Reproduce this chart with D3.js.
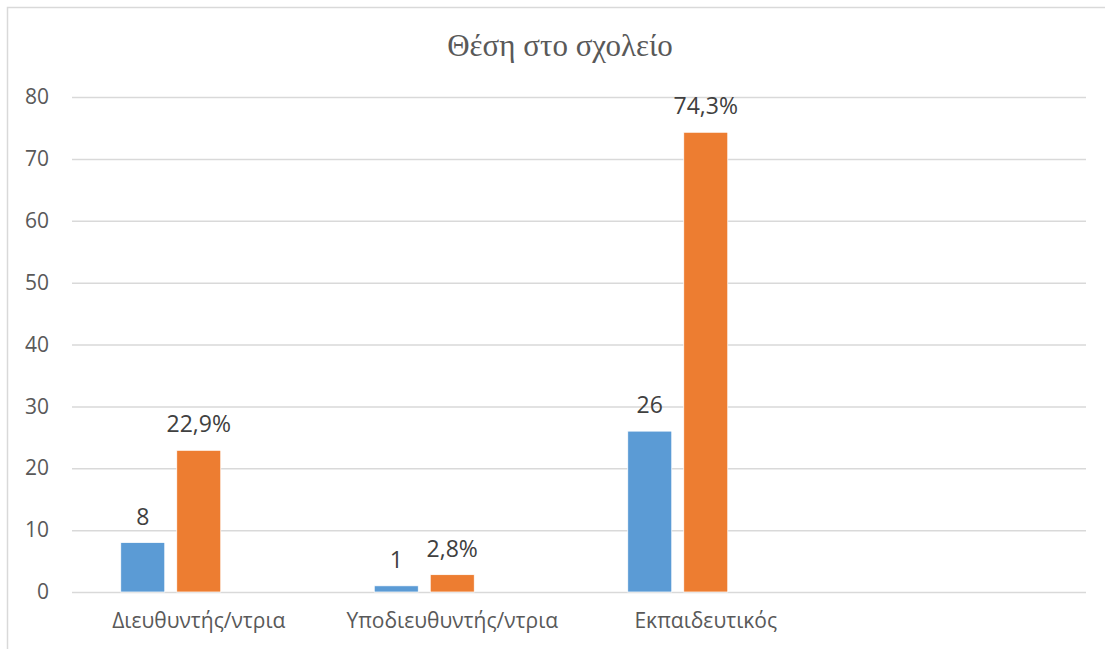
<!DOCTYPE html>
<html>
<head>
<meta charset="utf-8">
<script src="https://cdn.jsdelivr.net/npm/d3@7"></script>
<style>
  body { margin: 0; background: #fff; }
  svg { display: block; }
</style>
</head>
<body>
<svg id="chart" width="1105" height="649"></svg>
<script>
// data
const categories = ["Διευθυντής/ντρια", "Υποδιευθυντής/ντρια", "Εκπαιδευτικός", ""]
const counts = [8, 1, 26, null]
const percents = [22.9, 2.8, 74.3, null]
const emptySeries = [null, null, null, null]   // third slot, left blank in the original
const yTicks = [0, 10, 20, 30, 40, 50, 60, 70, 80]
const title = "Θέση στο σχολείο"

const seriesList = [
    {values: counts, color: "#5B9BD5", fmt: d => String(d)},
    {values: percents, color: "#ED7D31", fmt: d => d.toFixed(1).replace(".", ",") + "%"},
    {values: emptySeries, color: "#A5A5A5", fmt: d => String(d)}
]

const svg = d3.select("#chart")
const margin = {top: 97, left: 72, right: 19, bottom: 57}
const W = 1105, H = 649
const width = W - margin.left - margin.right
const height = H - margin.top - margin.bottom
const labelFont = "'Open Sans', 'Noto Sans', sans-serif"

// chart area border
svg.append("rect")
    .attr("x", 7.5).attr("y", 7.5)
    .attr("width", W).attr("height", H)
    .attr("fill", "#fff")
    .attr("stroke", "#D9D9D9")
    .attr("stroke-width", 1.5)

svg.append("text")
    .attr("x", 560).attr("y", 56)
    .attr("text-anchor", "middle")
    .attr("font-family", "'Liberation Serif', 'DejaVu Serif', serif")
    .attr("font-size", 31)
    .attr("fill", "#595959")
    .text(title)

const g = svg.append("g").attr("transform", `translate(${margin.left},${margin.top})`)

const y = d3.scaleLinear().domain([0, 80]).range([height, 0])
const x0 = d3.scaleBand().domain(d3.range(categories.length)).range([0, width]).padding(0)
const groupPad = 48.75
const x1 = d3.scaleBand().domain(d3.range(seriesList.length))
    .range([groupPad, x0.bandwidth() - groupPad])
    .paddingInner(0.214).paddingOuter(0)

const yAxis = g.append("g")
    .call(d3.axisLeft(y).tickValues(yTicks).tickSize(-width).tickPadding(23))
yAxis.select(".domain").remove()
yAxis.selectAll(".tick line").attr("stroke", "#D9D9D9").attr("stroke-width", 1.5)
yAxis.selectAll(".tick text")
    .attr("font-family", labelFont).attr("font-size", 21).attr("fill", "#595959")

const xAxis = g.append("g")
    .attr("transform", `translate(0,${height})`)
    .call(d3.axisBottom(x0).tickSize(0).tickPadding(21).tickFormat(i => categories[i]))
xAxis.select(".domain").remove()
xAxis.selectAll(".tick text")
    .attr("font-family", labelFont).attr("font-size", 21).attr("fill", "#595959")

seriesList.forEach((s, si) => {
    const pts = s.values.map((v, i) => ({v, i})).filter(d => d.v != null)
    const bars = g.append("g")
    bars.selectAll("rect")
        .data(pts)
        .join("rect")
        .attr("x", d => x0(d.i) + x1(si))
        .attr("y", d => y(d.v))
        .attr("width", x1.bandwidth())
        .attr("height", d => height - y(d.v))
        .attr("fill", s.color)
        .attr("stroke", "#fff")
        .attr("stroke-width", 0.75)
    bars.selectAll("text")
        .data(pts)
        .join("text")
        .attr("x", d => x0(d.i) + x1(si) + x1.bandwidth() / 2)
        .attr("y", d => y(d.v) - 18)
        .attr("text-anchor", "middle")
        .attr("font-family", labelFont)
        .attr("font-size", 23)
        .attr("fill", "#404040")
        .text(d => s.fmt(d.v))
})
</script>
</body>
</html>
